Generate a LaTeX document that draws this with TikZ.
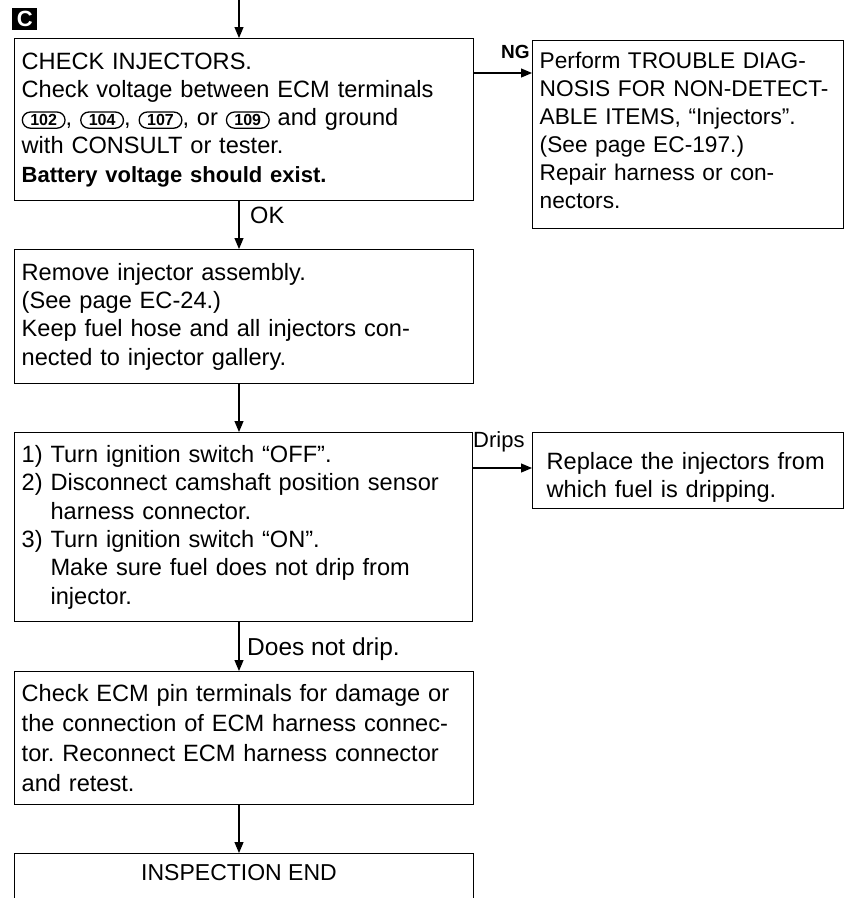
\documentclass[tikz,border=0pt]{standalone}
\usepackage{fontspec}
\setmainfont{Liberation Sans}
\usetikzlibrary{arrows.meta}
\frenchspacing
\newcommand\mainfs{\fontsize{23.6}{28.3}\selectfont}
\newcommand\termno[1]{\tikz[baseline=(t.base)]\node[draw,text width=,minimum width=0pt,minimum height=0pt,anchor=center,line width=1.3pt,rounded corners=8pt,inner xsep=8pt,inner ysep=2.4pt,font=\bfseries\fontsize{16}{16}\selectfont](t){#1};}
\begin{document}
\begin{tikzpicture}[x=1pt,y=-1pt,
  box/.style={draw, line width=1.4pt, anchor=north west, align=left, inner ysep=0pt, inner xsep=7pt, font=\mainfs},
  flow/.style={line width=1.2pt, -{Triangle[length=11pt,width=9pt]}},
  lbl/.style={font=\mainfs, inner sep=0pt, anchor=base west},
]
\clip (0,0) rectangle (850,898);
\fill[white] (0,0) rectangle (850,898);

\node[fill=black, text=white, font=\bfseries\fontsize{22}{22}\selectfont, minimum width=25pt, minimum height=22pt, inner sep=0pt, anchor=north west] (tag) at (12,8) {C};
\coordinate (start) at (239,0);

\node[box, minimum width=459pt, minimum height=162pt, text width=445pt] (b1) at (14,38) {CHECK INJECTORS.\\
Check voltage between ECM terminals\\
\termno{102}, \termno{104}, \termno{107}, or \termno{109} and ground\\
with CONSULT or tester.\\
{\bfseries\fontsize{22}{28.3}\selectfont Battery voltage should exist.}};

\node[box, minimum width=311pt, minimum height=188pt, text width=297pt, font=\fontsize{22.7}{28}\selectfont] (b2) at (532,40) {\rule{0pt}{0pt}\\[-19.5pt]Perform TROUBLE DIAG-\\
NOSIS FOR NON-DETECT-\\
ABLE ITEMS, ``Injectors''.\\
(See page EC-197.)\\
Repair harness or con-\\
nectors.};

\node[box, minimum width=459pt, minimum height=134pt, text width=445pt] (b3) at (14,249) {Remove injector assembly.\\
(See page EC-24.)\\
Keep fuel hose and all injectors con-\\
nected to injector gallery.};

\node[box, minimum width=458pt, minimum height=189pt, text width=444pt] (b4) at (14,432) {1) Turn ignition switch ``OFF''.\\
2) Disconnect camshaft position sensor\\
\phantom{2) }harness connector.\\
3) Turn ignition switch ``ON''.\\
\phantom{3) }Make sure fuel does not drip from\\
\phantom{3) }injector.};

\node[box, minimum width=311pt, minimum height=76pt, text width=283pt, inner xsep=14pt] (b5) at (532,432) {\rule{0pt}{0pt}\\[2pt]Replace the injectors from\\
which fuel is dripping.};

\node[box, minimum width=459pt, minimum height=133pt, text width=445pt, font=\fontsize{23.6}{29.8}\selectfont] (b6) at (14,671) {Check ECM pin terminals for damage or\\
the connection of ECM harness connec-\\
tor. Reconnect ECM harness connector\\
and retest.};

\node[draw, line width=1.4pt, anchor=north west, minimum width=459pt, minimum height=70pt] (b7) at (14,853) {};
\node[font=\fontsize{23}{23}\selectfont, inner sep=0pt, anchor=base] (endtxt) at (239,880) {INSPECTION END};

\draw[flow] (start) -- (start |- b1.north);
\draw[flow] (b1.east |- 0,73) -- (b2.west |- 0,73);
\node[lbl, font=\bfseries\fontsize{19}{19}\selectfont] (ng) at (501,58) {NG};
\draw[flow] (start |- b1.south) -- (start |- b3.north);
\node[lbl] (ok) at (250,223) {OK};
\draw[flow] (start |- b3.south) -- (start |- b4.north);
\draw[flow] (b4.east |- 0,468) -- (b5.west |- 0,468);
\node[lbl, font=\fontsize{22}{22}\selectfont] (drips) at (473,447) {Drips};
\draw[flow] (start |- b4.south) -- (start |- b6.north);
\node[lbl, font=\fontsize{24.5}{24}\selectfont] (dnd) at (247,655) {Does not drip.};
\draw[flow] (start |- b6.south) -- (start |- b7.north);
\end{tikzpicture}
\end{document}
